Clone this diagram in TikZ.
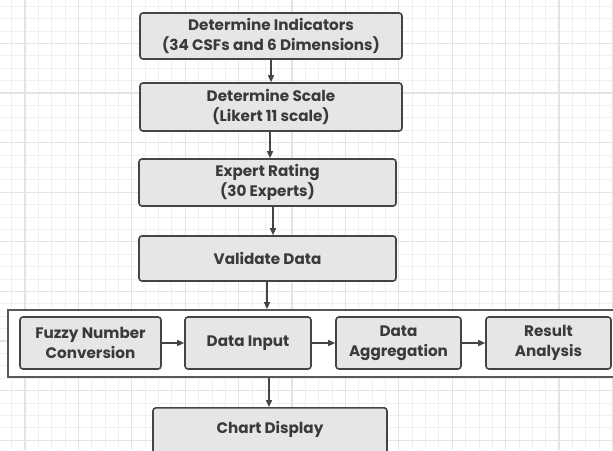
\documentclass[tikz,border=0pt]{standalone}
\usepackage{fontspec}
\setmainfont{Poppins}
\usetikzlibrary{arrows.meta}
\definecolor{gridminor}{HTML}{F0F0F0}
\definecolor{gridmajor}{HTML}{E4E4E4}
\definecolor{boxfill}{HTML}{E6E6E6}
\definecolor{boxline}{HTML}{444444}
\definecolor{txt}{HTML}{3A3A3A}
\tikzset{
  stepbox/.style={draw=boxline, line width=1.6pt, fill=boxfill, rounded corners=3pt,
    align=center, text=txt, font=\fontsize{15.2}{20.5}\selectfont\bfseries, inner sep=0pt},
  container/.style={draw=boxline!90, line width=1.8pt, fill=white, inner sep=0pt},
  conn/.style={draw=boxline, line width=1.4pt, -{Triangle[length=7pt,width=6pt]}},
}
\begin{document}
\begin{tikzpicture}[x=1pt,y=-1pt]
\useasboundingbox (0,0) rectangle (613,450);
\clip (0,0) rectangle (613,450);
\fill[white] (0,0) rectangle (613,450);
% grid
\foreach \i in {0,...,47} {
  \pgfmathsetmacro\xx{-1.7+13.35*\i}
  \draw[gridminor, line width=0.8pt] (\xx,0) -- (\xx,450);
}
\foreach \i in {0,...,37} {
  \pgfmathsetmacro\yy{-6.3+12.4*\i}
  \draw[gridminor, line width=0.8pt] (0,\yy) -- (613,\yy);
}
\foreach \i in {0,...,12} {
  \pgfmathsetmacro\xx{-28.4+53.4*\i}
  \draw[gridmajor, line width=1.2pt] (\xx,0) -- (\xx,450);
}
\foreach \i in {0,...,9} {
  \pgfmathsetmacro\yy{-6.3+49.6*\i}
  \draw[gridmajor, line width=1.2pt] (0,\yy) -- (613,\yy);
}
% main column
\node[stepbox, minimum width=262pt, minimum height=46pt] (ind) at (271,36) {Determine Indicators\\(34 CSFs and 6 Dimensions)};
\node[stepbox, minimum width=262pt, minimum height=48pt] (scale) at (271,107) {Determine Scale\\(Likert 11 scale)};
\node[stepbox, minimum width=257pt, minimum height=47pt] (rate) at (267.5,182.5) {Expert Rating\\(30 Experts)};
\node[stepbox, minimum width=257pt, minimum height=45pt] (valid) at (267.5,258.5) {Validate Data};
% container
\node[container, minimum width=614pt, minimum height=67pt] (cont) at (315,343.5) {};
\node[stepbox, minimum width=141pt, minimum height=52pt] (fuzzy) at (90.5,343) {Fuzzy Number\\Conversion};
\node[stepbox, minimum width=126pt, minimum height=52pt] (input) at (248,343) {Data Input};
\node[stepbox, minimum width=125pt, minimum height=52pt] (agg) at (398.5,343) {Data\\Aggregation};
\node[stepbox, minimum width=125pt, minimum height=52pt] (res) at (548.5,343) {Result\\Analysis};
% chart display (cut off at the bottom)
\node[stepbox, anchor=north, minimum width=234pt, text height=14pt, text depth=30pt, inner ysep=12pt] (chart) at (270,407) {Chart Display};
% connectors
\draw[conn] (ind.south -| 271,0) -- (scale.north -| 271,0);
\draw[conn] (scale.south -| 270,0) -- (rate.north -| 270,0);
\draw[conn] (rate.south -| 273,0) -- (valid.north -| 273,0);
\draw[conn] (valid.south -| 267,0) -- (cont.north -| 267,0);
\draw[conn] (fuzzy.east) -- (input.west);
\draw[conn] (input.east) -- (agg.west);
\draw[conn] (agg.east) -- (res.west);
\draw[conn] (cont.south -| 269,0) -- (chart.north -| 269,0);
\end{tikzpicture}
\end{document}
